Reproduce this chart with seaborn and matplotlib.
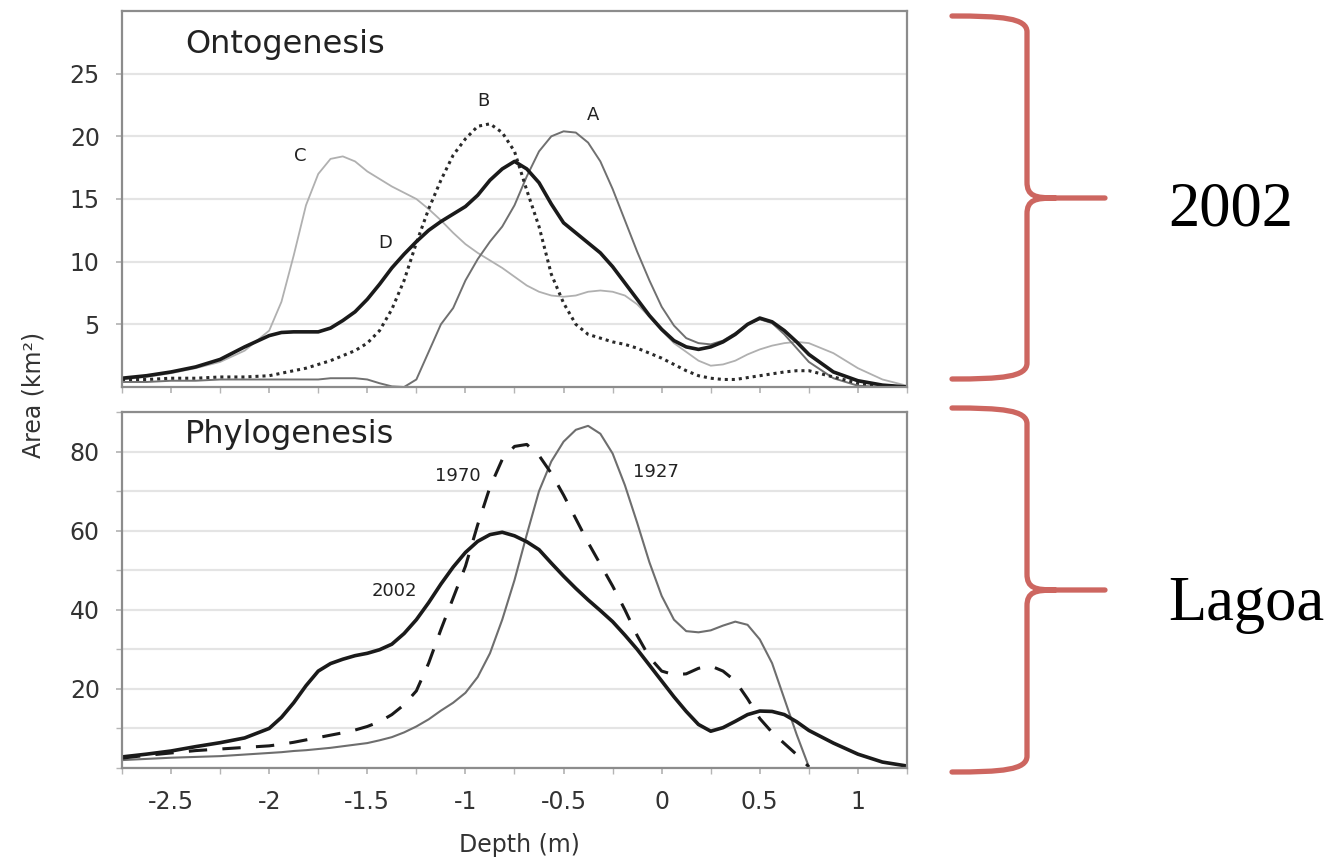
import numpy as np
import pandas as pd
import seaborn as sns
import matplotlib.pyplot as plt
from matplotlib.path import Path
from matplotlib.patches import PathPatch
from matplotlib.ticker import MultipleLocator

# depth (m): 0.125 m steps in the tails, 0.0625 m where the curves bend
depth = [-2.75, -2.625, -2.5, -2.375, -2.25, -2.125, -2.0,
         -1.9375, -1.875, -1.8125, -1.75, -1.6875, -1.625, -1.5625, -1.5,
         -1.4375, -1.375, -1.3125, -1.25, -1.1875, -1.125, -1.0625, -1.0,
         -0.9375, -0.875, -0.8125, -0.75, -0.6875, -0.625, -0.5625, -0.5,
         -0.4375, -0.375, -0.3125, -0.25, -0.1875, -0.125, -0.0625, 0.0,
         0.0625, 0.125, 0.1875, 0.25, 0.3125, 0.375, 0.4375, 0.5,
         0.5625, 0.625, 0.6875, 0.75,
         0.875, 1.0, 1.125, 1.25]

# Ontogenesis (2002), area km2
onto_A = [0.4, 0.4, 0.5, 0.5, 0.6, 0.6, 0.6,
          0.6, 0.6, 0.6, 0.6, 0.7, 0.7, 0.7, 0.6,
          0.3, 0.05, 0.0, 0.6, 2.8, 5.0, 6.3, 8.5,
          10.2, 11.6, 12.8, 14.5, 16.8, 18.8, 20.0, 20.4,
          20.3, 19.5, 18.0, 15.8, 13.3, 10.8, 8.5, 6.4,
          4.9, 3.9, 3.5, 3.4, 3.7, 4.3, 5.0, 5.4,
          5.1, 4.2, 3.1, 2.0,
          0.7, 0.1, 0.0, 0.0]
onto_B = [0.6, 0.6, 0.7, 0.7, 0.8, 0.8, 0.9,
          1.1, 1.3, 1.5, 1.8, 2.1, 2.5, 2.9, 3.5,
          4.5, 6.2, 8.5, 11.5, 14.2, 16.5, 18.5, 19.8,
          20.8, 21.0, 20.3, 18.8, 15.7, 12.8, 9.0, 6.7,
          5.0, 4.2, 3.9, 3.6, 3.4, 3.1, 2.7, 2.3,
          1.8, 1.3, 0.9, 0.7, 0.6, 0.6, 0.75, 0.9,
          1.05, 1.2, 1.3, 1.3,
          0.8, 0.3, 0.1, 0.0]
onto_C = [0.6, 0.8, 1.1, 1.5, 2.0, 2.9, 4.5,
          6.8, 10.5, 14.5, 17.0, 18.2, 18.4, 18.0, 17.2,
          16.6, 16.0, 15.5, 15.0, 14.2, 13.3, 12.3, 11.4,
          10.7, 10.1, 9.5, 8.8, 8.1, 7.6, 7.3, 7.2,
          7.3, 7.6, 7.7, 7.6, 7.3, 6.6, 5.6, 4.5,
          3.5, 2.8, 2.1, 1.7, 1.8, 2.1, 2.6, 3.0,
          3.3, 3.5, 3.6, 3.5,
          2.7, 1.5, 0.6, 0.1]
onto_D = [0.7, 0.9, 1.2, 1.6, 2.2, 3.2, 4.1,
          4.35, 4.4, 4.4, 4.4, 4.7, 5.3, 6.0, 7.0,
          8.2, 9.5, 10.6, 11.6, 12.5, 13.2, 13.8, 14.4,
          15.3, 16.5, 17.4, 18.0, 17.4, 16.3, 14.6, 13.1,
          12.3, 11.5, 10.7, 9.6, 8.3, 7.0, 5.7, 4.6,
          3.7, 3.2, 3.0, 3.2, 3.6, 4.2, 5.0, 5.5,
          5.2, 4.5, 3.6, 2.6,
          1.2, 0.5, 0.15, 0.0]

# Phylogenesis (Lagoa), area km2; 1927 and 1970 stop at 0.75 m
phylo_1927 = [2.0, 2.3, 2.6, 2.8, 3.0, 3.4, 3.8,
              4.0, 4.3, 4.5, 4.8, 5.1, 5.5, 5.9, 6.3,
              7.0, 7.8, 9.0, 10.5, 12.3, 14.5, 16.5, 19.0,
              23.0, 29.0, 37.5, 47.5, 59.0, 70.0, 77.5, 82.5,
              85.5, 86.5, 84.5, 79.5, 71.5, 62.0, 52.0, 43.5,
              37.5, 34.6, 34.3, 34.8, 36.0, 37.0, 36.2, 32.5,
              26.5, 17.5, 8.5, 0.3]
phylo_1970 = [2.5, 3.2, 3.8, 4.4, 4.8, 5.2, 5.6,
              6.0, 6.5, 7.1, 7.7, 8.3, 8.9, 9.6, 10.5,
              11.7, 13.5, 16.0, 19.5, 26.5, 35.0, 43.0, 51.0,
              61.5, 71.0, 78.0, 81.3, 81.8, 79.0, 74.5, 69.0,
              63.0, 57.0, 51.5, 46.0, 40.0, 33.5, 28.0, 24.5,
              23.6, 23.8, 25.2, 25.8, 24.5, 22.0, 17.5, 12.5,
              9.0, 6.2, 3.4, 0.3]
phylo_2002 = [2.8, 3.5, 4.3, 5.4, 6.4, 7.6, 10.0,
              12.8, 16.5, 20.8, 24.5, 26.4, 27.5, 28.4, 29.0,
              29.9, 31.3, 34.0, 37.5, 41.8, 46.5, 50.8, 54.5,
              57.3, 59.0, 59.6, 58.7, 57.2, 55.2, 51.8, 48.5,
              45.4, 42.5, 39.8, 37.0, 33.6, 30.0, 26.0, 22.0,
              18.0, 14.3, 11.0, 9.3, 10.2, 11.8, 13.5, 14.4,
              14.3, 13.5, 11.7, 9.5,
              6.3, 3.5, 1.5, 0.5]

sns.set_theme(style="white")
plt.rcParams['font.family'] = ['DejaVu Sans']

W, H = 1333, 859
fig = plt.figure(figsize=(W / 100, H / 100), dpi=100)
ax1 = fig.add_axes([122 / W, 1 - 387 / H, 785 / W, 376 / H])
ax2 = fig.add_axes([122 / W, 1 - 768 / H, 785 / W, 356 / H])

frame = '#8c8c8c'
gridc = '#e4e4e4'

# top panel
sns.lineplot(x=depth, y=onto_C, ax=ax1, color='#b0b0b0', lw=1.3)
sns.lineplot(x=depth, y=onto_A, ax=ax1, color='#707070', lw=1.4)
sns.lineplot(x=depth, y=onto_B, ax=ax1, color='#2a2a2a', lw=2.2, linestyle=(0, (1, 1.3)))
sns.lineplot(x=depth, y=onto_D, ax=ax1, color='#1a1a1a', lw=2.6)

# bottom panel
n = len(phylo_1927)
sns.lineplot(x=depth[:n], y=phylo_1927, ax=ax2, color='#6e6e6e', lw=1.5)
sns.lineplot(x=depth[:len(phylo_1970)], y=phylo_1970, ax=ax2, color='#1a1a1a', lw=2.2,
             linestyle=(0, (6, 5)))
sns.lineplot(x=depth, y=phylo_2002, ax=ax2, color='#1a1a1a', lw=2.6)

for ax in (ax1, ax2):
    ax.set_xlim(-2.75, 1.25)
    ax.xaxis.set_major_locator(MultipleLocator(0.5))
    ax.xaxis.set_minor_locator(MultipleLocator(0.25))
    ax.tick_params(axis='both', which='both', direction='out', length=4,
                   color='#b5b5b5', labelsize=17, pad=12, left=True, bottom=True,
                   labelcolor='#333333')
    ax.set_xlabel('')
    ax.set_ylabel('')
    for sp in ax.spines.values():
        sp.set_color(frame)
        sp.set_linewidth(1.6)
    ax.set_axisbelow(True)

ax1.set_ylim(0, 30)
ax1.set_yticks([5, 10, 15, 20, 25])
ax1.grid(axis='y', color=gridc, lw=1.6)
ax1.tick_params(labelbottom=False)

ax2.set_ylim(0, 90)
ax2.set_yticks([20, 40, 60, 80])
ax2.yaxis.set_minor_locator(MultipleLocator(10))
ax2.grid(axis='y', which='both', color=gridc, lw=1.6)
ax2.set_xticks([-2.5, -2, -1.5, -1, -0.5, 0, 0.5, 1])
ax2.set_xticklabels(['-2.5', '-2', '-1.5', '-1', '-0.5', '0', '0.5', '1'])

ax1.text(0.080, 0.888, 'Ontogenesis', transform=ax1.transAxes, fontsize=23,
         color='#222222', va='baseline')
ax2.text(0.080, 0.913, 'Phylogenesis', transform=ax2.transAxes, fontsize=23,
         color='#222222', va='baseline')

lab = dict(fontsize=13, color='#222222', ha='center', va='center')
ax1.text(-1.84, 18.4, 'C', **lab)
ax1.text(-0.91, 22.8, 'B', **lab)
ax1.text(-0.35, 21.7, 'A', **lab)
ax1.text(-1.41, 11.5, 'D', **lab)
ax2.text(-1.04, 73.7, '1970', **lab)
ax2.text(-0.03, 74.9, '1927', **lab)
ax2.text(-1.36, 44.8, '2002', **lab)

fig.text(33 / W, 1 - 395 / H, 'Area (km²)', rotation=90, fontsize=17,
         color='#333333', ha='center', va='center')
fig.text(519 / W, 1 - 845 / H, 'Depth (m)', fontsize=17, color='#333333',
         ha='center', va='center')

# braces and side labels, drawn in pixel space
over = fig.add_axes([0, 0, 1, 1])
over.set_xlim(0, W)
over.set_ylim(H, 0)
over.axis('off')


def brace(x0, xv, xt, y0, y1, ym):
    verts = [(x0, y0), (x0 + 50, y0), (xv, y0 + 2), (xv, y0 + 16),
             (xv, ym - 16),
             (xv, ym - 2), (xv + 8, ym), (xv + 28, ym),
             (xt, ym),
             (xv + 28, ym), (xv + 8, ym), (xv, ym + 2), (xv, ym + 16),
             (xv, y1 - 16),
             (xv, y1 - 2), (x0 + 50, y1), (x0, y1)]
    codes = [Path.MOVETO, Path.CURVE4, Path.CURVE4, Path.CURVE4,
             Path.LINETO,
             Path.CURVE4, Path.CURVE4, Path.CURVE4,
             Path.LINETO,
             Path.MOVETO, Path.CURVE4, Path.CURVE4, Path.CURVE4,
             Path.LINETO,
             Path.CURVE4, Path.CURVE4, Path.CURVE4]
    return PathPatch(Path(verts, codes), fill=False, ec='#cd6660', lw=3.8,
                     capstyle='round', joinstyle='round')


over.add_patch(brace(952, 1027, 1105, 16, 379, 198))
over.add_patch(brace(952, 1027, 1105, 408, 772, 590))
over.text(1168, 226, '2002', fontsize=45, family='Liberation Serif',
          color='black', va='baseline')
over.text(1168, 620, 'Lagoa', fontsize=45, family='Liberation Serif',
          color='black', va='baseline')

fig.savefig('out.png', dpi=100)
